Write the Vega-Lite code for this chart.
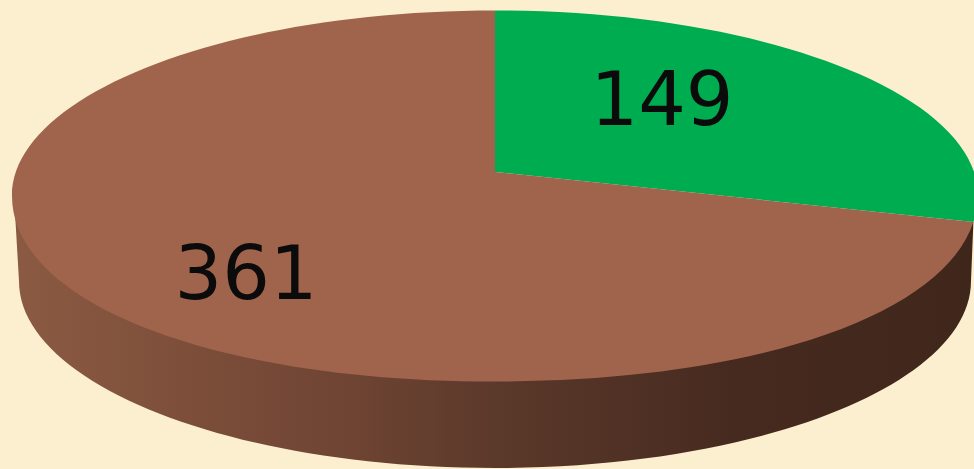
{
"$schema":"https://vega.github.io/schema/vega-lite/v6.json",
"width":974,"height":469,"padding":0,"autosize":{"type":"none"},
"background":"#FCEFCF",
"config":{"view":{"stroke":null}},
"data":{"values":[{"part":"A","value":149},{"part":"B","value":361}]},
"layer":[
{"transform":[{"filter":"datum.value == 361"}],
 "mark":{"type":"point","filled":true,"opacity":1,"size":40000,"shape":"M-4.73,-0.385 L-4.68,0.465 A4.76,1.87 0 0 0 4.84,0.465 L4.864,-0.125 Z",
 "fill":{"gradient":"linear","x1":0,"y1":0,"x2":1,"y2":0,"stops":[{"offset":0,"color":"#8B5A42"},{"offset":0.35,"color":"#6F4433"},{"offset":0.5,"color":"#5B392B"},{"offset":0.75,"color":"#472A1F"},{"offset":1,"color":"#3F261B"}]}},
 "encoding":{}},
{"mark":{"type":"point","filled":true,"opacity":1,"size":40000},
 "encoding":{
  "shape":{"field":"part","type":"nominal","legend":null,"scale":{"domain":["A","B"],"range":["M0.08,-0.625 L0.08,-2.24 A4.83,1.855 0 0 1 4.864,-0.125 Z","M0.08,-0.625 L4.864,-0.125 C4.559,0.818 2.642,1.47 0.08,1.47 C-2.72,1.47 -4.75,0.691 -4.75,-0.385 A4.83,1.855 0 0 1 0.08,-2.24 Z"]}},
  "color":{"field":"part","type":"nominal","legend":null,"scale":{"domain":["A","B"],"range":["#00AC50","#A0644C"]}}
 }},
{"mark":{"type":"text","fontSize":75,"font":"DejaVu Sans","align":"center","baseline":"middle","color":"#0B0B0B"},
 "encoding":{
  "x":{"field":"value","type":"quantitative","axis":null,"scale":{"domain":[149,361],"range":[662,246]}},
  "y":{"field":"value","type":"quantitative","axis":null,"scale":{"domain":[149,361],"range":[102,276]}},
  "text":{"field":"value","type":"quantitative"}
 }}
]
}
